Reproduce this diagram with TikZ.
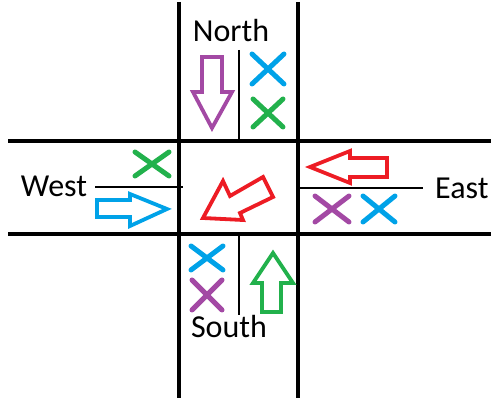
\documentclass[tikz,border=0pt]{standalone}
\usepackage{fontspec}
\setmainfont{Carlito}
\definecolor{pp}{HTML}{A349A4}
\definecolor{bb}{HTML}{00A2E8}
\definecolor{gg}{HTML}{22B14C}
\definecolor{rr}{HTML}{ED1C24}
\begin{document}
\begin{tikzpicture}[x=1pt,y=-1pt,
  road/.style={line width=3.8pt},
  divider/.style={line width=1.8pt},
  arr/.style={line width=3.8pt, line join=miter},
  cross/.style={line width=5pt, line cap=round},
  lbl/.style={font=\fontsize{32}{38}\selectfont, inner sep=0pt}]
\useasboundingbox (0,0) rectangle (491,398);
% roads
\draw[road] (8,141) -- (491,141);
\draw[road] (8,234) -- (491,234);
\draw[road] (179,2) -- (179,398);
\draw[road] (298,2) -- (298,398);
% dividers
\draw[divider] (239,50) -- (239,141);
\draw[divider] (95,187) -- (183,187);
\draw[divider] (300,188) -- (423,188);
\draw[divider] (239,234) -- (239,315);
% labels
\node[lbl, anchor=base] (north) at (231,42) {North};
\node[lbl, anchor=base] (west) at (54,197) {West};
\node[lbl, anchor=base west] (east) at (435,199) {East};
\node[lbl, anchor=base] (south) at (229,338) {South};
% arrows
\draw[arr, pp] (202,57) -- (222,57) -- (222,92) -- (232,92) -- (212,128) -- (193,92) -- (202,92) -- cycle;
\draw[arr, bb] (97,200) -- (130,200) -- (130,194) -- (167,209) -- (130,226) -- (130,217) -- (97,217) -- cycle;
\draw[arr, rr] (387,158) -- (350,158) -- (350,151) -- (310,167) -- (350,183) -- (350,177) -- (387,177) -- cycle;
\draw[arr, gg] (262,312) -- (262,283) -- (253,283) -- (273,253) -- (293,283) -- (281,283) -- (281,312) -- cycle;
\draw[arr, rr] (203,218) -- (223,181) -- (230,196) -- (263,177) -- (273,197) -- (240,213) -- (243,220) -- cycle;
% crosses
\draw[cross, bb, shift={(268,69)}] (-16,-15) -- (16,15) (-16,15) -- (16,-15);
\draw[cross, gg, shift={(268,113)}] (-15,-14) -- (15,14) (-15,14) -- (15,-14);
\draw[cross, gg, shift={(152,164)}] (-17,-12) -- (17,12) (-17,12) -- (17,-12);
\draw[cross, pp, shift={(332,209)}] (-17,-13) -- (17,13) (-17,13) -- (17,-13);
\draw[cross, bb, shift={(379,209)}] (-16,-13) -- (16,13) (-16,13) -- (16,-13);
\draw[cross, bb, shift={(207,258)}] (-16,-12) -- (16,12) (-16,12) -- (16,-12);
\draw[cross, pp, shift={(207,295)}] (-15,-15) -- (15,15) (-15,15) -- (15,-15);
\end{tikzpicture}
\end{document}
